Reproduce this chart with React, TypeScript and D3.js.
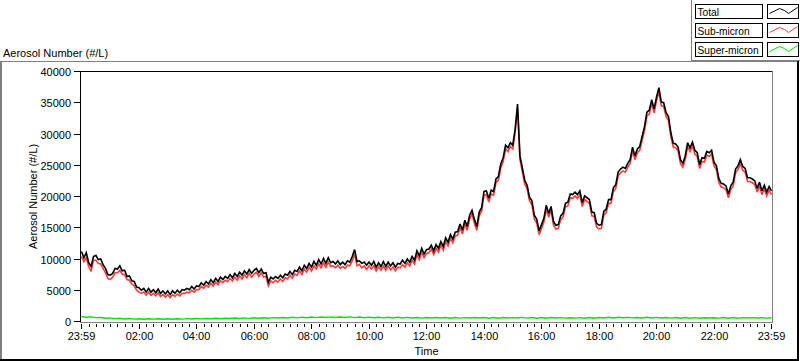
import React from "react";
import * as d3 from "d3";

// ---------- DATA ----------
const startTime = new Date(2000, 0, 1, 23, 59);
const endTime = new Date(2000, 0, 2, 23, 59);
const stepMinutesMain = 5; // sample spacing of total / sub-micron
const stepMinutesSuper = 10; // sample spacing of super-micron

const xTickLabels = ["23:59", "02:00", "04:00", "06:00", "08:00", "10:00", "12:00", "14:00", "16:00", "18:00", "20:00", "22:00", "23:59"];
const yTickValues = [0, 5000, 10000, 15000, 20000, 25000, 30000, 35000, 40000];
const seriesNames = ["Total", "Sub-micron", "Super-micron"];

const totalValues = [
  11200, 10200, 11000, 9400, 8800, 10400, 10600, 9900, 10000, 9100, 8500, 7500, 7400,
  7700, 8500, 8400, 8900, 8100, 8200, 7200, 7300, 6500, 6400, 5500, 5400,
  5000, 5300, 4700, 5300, 4700, 5100, 4600, 5200, 4500, 4900, 4400, 4900,
  4300, 4900, 4500, 5000, 4600, 5100, 5000, 5300, 5100, 5600, 5200, 5700,
  5600, 6200, 5800, 6400, 6000, 6700, 6200, 6900, 6400, 7100, 6700, 7200,
  6900, 7500, 7000, 7700, 7200, 7900, 7400, 8100, 7600, 8300, 7700, 8200,
  8500, 7800, 8400, 7700, 7800, 6300, 7100, 6800, 7200, 6900, 7400, 7000,
  7600, 7400, 8000, 7500, 8200, 8000, 8700, 8100, 9000, 8500, 9300, 8700,
  9600, 9000, 9900, 9200, 10100, 9300, 10200, 9400, 9600, 9200, 9700, 9100,
  9500, 9100, 9700, 9500, 10400, 11500, 9600, 9700, 9300, 9500, 9000, 9500,
  9000, 9600, 8700, 9400, 8800, 9600, 8800, 9500, 8900, 9400, 8700, 9300,
  9200, 9800, 9300, 10000, 9500, 10400, 9800, 11300, 10500, 11700, 10800, 11500,
  11600, 12200, 11300, 12300, 11700, 12800, 12000, 13400, 12700, 13900, 13200, 14300,
  14400, 15600, 14600, 16200, 15200, 17000, 17800, 16300, 15200, 17500, 18200, 20800,
  20900, 19700, 21000, 20800, 22800, 23200, 25200, 26200, 28200, 27800, 28600, 28200,
  30800, 34800, 26500, 24600, 22600, 21800, 19900, 19300, 17000, 16400, 14500, 15500,
  16500, 18600, 17300, 18400, 16000, 15400, 15500, 16900, 17300, 18900, 19100, 20400,
  20300, 20700, 20300, 20900, 19000, 20100, 19800, 19500, 17500, 17400, 15700, 15400,
  15500, 17600, 18000, 19500, 19500, 21400, 21900, 23900, 24400, 24700, 24500, 25300,
  25900, 27900, 26500, 27600, 28000, 29600, 31200, 33500, 33800, 35500, 34000, 35900,
  37400, 35100, 35000, 33400, 32800, 30200, 28500, 28400, 27900, 25900, 25300, 26500,
  28600, 27800, 28700, 27400, 27000, 25100, 26200, 26100, 27200, 27000, 27400, 25500,
  24900, 22900, 22100, 22000, 21700, 20400, 21700, 22300, 24400, 24900, 25900, 24800,
  24500, 23000, 23000, 22800, 22500, 21300, 22300, 20900, 21800, 20700, 21600, 20900,
];

const subMicronValues = [
  10400, 9600, 10200, 8800, 8000, 9800, 9800, 9300, 9200, 8500, 7800, 6900, 6700,
  7100, 7800, 7800, 8200, 7600, 7500, 6700, 6600, 6000, 5700, 5000, 4700,
  4500, 4700, 4200, 4700, 4200, 4500, 4100, 4600, 4000, 4300, 3900, 4300,
  3800, 4300, 4000, 4400, 4100, 4500, 4500, 4700, 4600, 5000, 4700, 5100,
  5100, 5600, 5300, 5800, 5500, 6100, 5700, 6300, 5900, 6500, 6200, 6600,
  6400, 6900, 6500, 7100, 6600, 7300, 6800, 7500, 7000, 7700, 7100, 7600,
  7900, 7200, 7800, 7100, 7200, 5700, 6500, 6200, 6600, 6300, 6800, 6400,
  7000, 6800, 7400, 6900, 7600, 7400, 8100, 7500, 8400, 7900, 8700, 8100,
  8900, 8400, 9200, 8600, 9400, 8700, 9500, 8800, 8900, 8600, 9000, 8500,
  8800, 8500, 9000, 8900, 9700, 10800, 8900, 9100, 8600, 8900, 8300, 8900,
  8400, 8900, 8100, 8800, 8200, 8900, 8200, 8900, 8300, 8700, 8100, 8700,
  8600, 9100, 8700, 9400, 8900, 9800, 9200, 10700, 9900, 11100, 10200, 10900,
  11000, 11600, 10700, 11700, 11100, 12200, 11400, 12800, 12100, 13300, 12600, 13700,
  13800, 15000, 14000, 15600, 14600, 16400, 17200, 15700, 14600, 16900, 17600, 20200,
  20300, 19100, 20400, 20200, 22200, 22600, 24600, 25600, 27600, 27200, 28000, 27600,
  30200, 34200, 25900, 24000, 22000, 21200, 19300, 18700, 16400, 15800, 13900, 14900,
  15900, 18000, 16700, 17800, 15400, 14800, 14900, 16300, 16700, 18300, 18500, 19800,
  19700, 20100, 19700, 20300, 18400, 19500, 19200, 18900, 16900, 16800, 15100, 14800,
  14900, 17000, 17400, 18900, 18900, 20800, 21300, 23300, 23800, 24100, 23900, 24700,
  25300, 27300, 25900, 27000, 27400, 29000, 30600, 32900, 33200, 34900, 33400, 35300,
  36800, 34500, 34400, 32800, 32200, 29600, 27900, 27800, 27300, 25300, 24700, 25900,
  28000, 27200, 28100, 26800, 26400, 24500, 25600, 25500, 26600, 26400, 26800, 24900,
  24300, 22300, 21500, 21400, 21100, 19800, 21100, 21700, 23800, 24300, 25300, 24200,
  23900, 22400, 22400, 22200, 21900, 20700, 21700, 20300, 21200, 20100, 21000, 20300,
];

const superMicronValues = [
  800, 690, 740, 620, 650, 520, 580,
  460, 520, 410, 480, 380, 450,
  360, 430, 380, 440, 350, 430,
  370, 450, 380, 460, 390, 470,
  420, 490, 440, 510, 450, 530,
  470, 560, 480, 580, 500, 590,
  520, 610, 530, 620, 560, 650,
  570, 670, 580, 700, 590, 710,
  620, 720, 630, 740, 640, 730,
  650, 740, 620, 720, 610, 700,
  590, 690, 580, 680, 570, 670,
  560, 660, 550, 650, 540, 640,
  550, 640, 560, 630, 530, 640,
  540, 620, 550, 640, 560, 630,
  530, 630, 520, 640, 550, 620,
  560, 660, 540, 650, 530, 640,
  520, 630, 560, 620, 540, 610,
  540, 620, 530, 640, 520, 630,
  560, 680, 570, 670, 600, 660,
  580, 650, 570, 680, 560, 660,
  550, 650, 540, 640, 530, 630,
  520, 620, 510, 610, 550, 600,
  540, 640, 530, 630, 520, 620,
  560, 620, 550, 610, 540, 600,
];

// ---------- STYLE / LAYOUT ----------
const W = 800;
const H = 361;
const FONT = "'Liberation Sans', Arial, sans-serif";
const seriesColors = ["#000000", "#ff3b3b", "#00e600"];
const plotLeft = 81.5;
const plotRight = 771.5;
const plotTop = 71.5;
const plotBottom = 321.5;

function labelToDate(label: string, i: number, n: number): Date {
  if (i === 0) return startTime;
  if (i === n - 1) return endTime;
  const [hh, mm] = label.split(":").map(Number);
  return new Date(2000, 0, 2, hh, mm);
}

export default function App() {
  const x = d3.scaleTime().domain([startTime, endTime]).range([plotLeft, plotRight]);
  const y = d3.scaleLinear().domain([0, 40000]).range([plotBottom, plotTop]);

  const toPoints = (vals: number[], step: number) =>
    vals.map((v, i) => ({ t: d3.timeMinute.offset(startTime, i * step), v }));

  const line = d3
    .line<{ t: Date; v: number }>()
    .x((d) => x(d.t))
    .y((d) => y(d.v));

  const series = [
    { data: toPoints(superMicronValues, stepMinutesSuper), color: seriesColors[2], w: 1.4 },
    { data: toPoints(subMicronValues, stepMinutesMain), color: seriesColors[1], w: 1.6 },
    { data: toPoints(totalValues, stepMinutesMain), color: seriesColors[0], w: 1.6 },
  ];

  const majorDates = xTickLabels.map((l, i) => labelToDate(l, i, xTickLabels.length));
  const minorDates = d3
    .timeMinute.every(15)!
    .range(startTime, endTime)
    .filter((d) => d.getMinutes() !== 0 || d.getHours() % 2 !== 0);

  const swatch = [
    [2, 9],
    [12, 4],
    [17, 6],
    [21, 9],
    [30, 3],
  ];

  return (
    <div style={{ position: "fixed", left: 0, top: 0, width: W, height: H, background: "#fff" }}>
      <svg width={W} height={H} style={{ display: "block" }} fontFamily={FONT} fontSize={11}>
        <rect x={0} y={0} width={W} height={H} fill="#ffffff" />

        {/* outer frame */}
        <rect x={0} y={61} width={2} height={299} fill="#808080" />
        <rect x={0} y={61} width={797} height={1} fill="#808080" />
        <rect x={797} y={61} width={2} height={300} fill="#000000" />
        <rect x={0} y={359} width={799} height={2} fill="#000000" />

        {/* top-left title */}
        <text x={3} y={56.5} fill="#000">Aerosol Number (#/L)</text>

        {/* legend */}
        <rect x={691} y={0} width={1} height={61} fill="#808080" />
        <rect x={691} y={60} width={109} height={1} fill="#808080" />
        {seriesNames.map((name, i) => {
          const top = 4.5 + i * 19;
          return (
            <g key={name}>
              <rect x={695.5} y={top} width={67} height={14} fill="#fff" stroke="#000" strokeWidth={1} />
              <text x={697.5} y={top + 11} fill="#000" fontSize={10.2}>{name}</text>
              <rect x={767.5} y={top} width={31} height={14} fill="#fff" stroke="#000" strokeWidth={1} />
              <polyline
                points={swatch.map(([sx, sy]) => `${767.5 + sx},${top + sy}`).join(" ")}
                fill="none"
                stroke={seriesColors[i]}
                strokeWidth={1}
              />
            </g>
          );
        })}

        {/* data */}
        {series.map((s, i) => (
          <path key={i} d={line(s.data) || ""} fill="none" stroke={s.color} strokeWidth={s.w} strokeLinejoin="miter" strokeMiterlimit={3} />
        ))}

        {/* plot frame */}
        <rect x={80} y={71} width={693} height={1} fill="#000" />
        <rect x={80} y={71} width={1} height={252} fill="#000" />
        <rect x={772} y={71} width={1} height={252} fill="#808080" />
        <rect x={80} y={322} width={693} height={1} fill="#808080" />

        {/* y axis */}
        {yTickValues.map((v) => {
          const yy = Math.round(y(v) - 0.5) + 0.5;
          return (
            <g key={v}>
              <line x1={74} x2={80} y1={yy} y2={yy} stroke="#000" strokeWidth={1} />
              <text x={71} y={yy + 4} textAnchor="end" fill="#000">{v}</text>
            </g>
          );
        })}
        <text
          transform={`translate(36.5,${(plotTop + plotBottom) / 2}) rotate(-90)`}
          textAnchor="middle"
          fill="#000"
        >
          Aerosol Number (#/L)
        </text>

        {/* x axis */}
        {minorDates.map((d, i) => {
          const xx = Math.round(x(d) - 0.5) + 0.5;
          return <line key={"m" + i} x1={xx} x2={xx} y1={324} y2={327} stroke="#000" strokeWidth={1} />;
        })}
        {majorDates.map((d, i) => {
          const xx = Math.round(x(d) - 0.5) + 0.5;
          return (
            <g key={"M" + i}>
              <line x1={xx} x2={xx} y1={324} y2={329} stroke="#000" strokeWidth={1} />
              <text x={xx} y={339.5} textAnchor="middle" fill="#000">{xTickLabels[i]}</text>
            </g>
          );
        })}
        <text x={(plotLeft + plotRight) / 2} y={355} textAnchor="middle" fill="#000">Time</text>
      </svg>
    </div>
  );
}
